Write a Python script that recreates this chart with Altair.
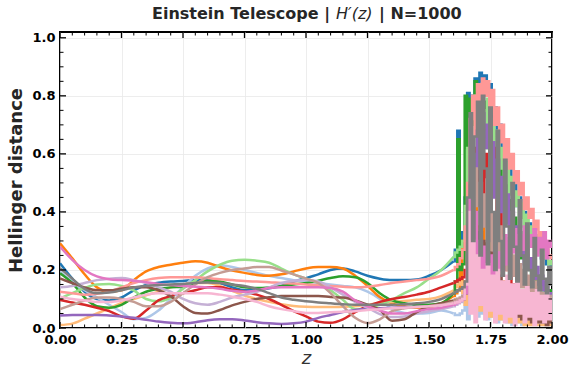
import altair as alt
import pandas as pd

# ---------------- data ----------------
z_smooth = [round(0.05 * i, 2) for i in range(33)]          # 0.00 ... 1.60
z_noisy = [round(1.60 + 0.01 * i, 2) for i in range(41)]    # 1.60 ... 2.00

series_colors = ["#1f77b4", "#aec7e8", "#ff7f0e", "#ffbb78", "#2ca02c",
                 "#98df8a", "#d62728", "#ff9896", "#9467bd", "#c5b0d5",
                 "#8c564b", "#c49c94", "#e377c2", "#f7b6d2", "#7f7f7f"]

blue = [0.223,0.17,0.125,0.10,0.095,0.105,0.13,0.148,0.156,0.16,0.162,0.165,0.165,0.155,0.14,0.13,0.13,0.137,0.145,0.16,0.172,0.185,0.2,0.205,0.195,0.18,0.17,0.165,0.165,0.167,0.18,0.2,0.23]
light_blue = [0.194,0.16,0.13,0.105,0.08,0.055,0.03,0.035,0.06,0.1,0.14,0.18,0.205,0.215,0.21,0.2,0.19,0.18,0.172,0.165,0.16,0.155,0.15,0.145,0.14,0.125,0.1,0.065,0.052,0.05,0.052,0.06,0.05]
orange = [0.292,0.24,0.185,0.14,0.125,0.13,0.165,0.195,0.21,0.218,0.225,0.23,0.225,0.21,0.198,0.19,0.183,0.18,0.185,0.195,0.205,0.21,0.21,0.205,0.18,0.145,0.107,0.085,0.075,0.07,0.072,0.085,0.11]
light_orange = [0.01,0.015,0.032,0.05,0.068,0.086,0.1,0.113,0.125,0.14,0.15,0.155,0.155,0.145,0.128,0.112,0.1,0.09,0.082,0.076,0.073,0.072,0.072,0.073,0.075,0.08,0.086,0.09,0.093,0.097,0.1,0.11,0.13]
green = [0.189,0.155,0.105,0.075,0.07,0.08,0.105,0.125,0.135,0.14,0.142,0.155,0.163,0.16,0.15,0.14,0.138,0.14,0.145,0.15,0.155,0.163,0.172,0.178,0.175,0.155,0.12,0.095,0.085,0.08,0.08,0.085,0.12]
light_green = [0.102,0.12,0.138,0.15,0.152,0.145,0.13,0.1,0.092,0.105,0.135,0.165,0.195,0.218,0.232,0.235,0.232,0.225,0.205,0.185,0.17,0.155,0.13,0.097,0.065,0.068,0.08,0.097,0.12,0.14,0.17,0.2,0.245]
red = [0.097,0.088,0.08,0.07,0.058,0.04,0.032,0.06,0.095,0.11,0.12,0.13,0.14,0.14,0.132,0.125,0.115,0.1,0.08,0.058,0.04,0.022,0.018,0.03,0.055,0.075,0.09,0.1,0.107,0.115,0.125,0.14,0.155]
salmon = [0.125,0.12,0.115,0.118,0.125,0.14,0.155,0.165,0.172,0.175,0.175,0.175,0.172,0.168,0.165,0.162,0.16,0.158,0.155,0.153,0.15,0.148,0.145,0.142,0.14,0.142,0.148,0.155,0.16,0.165,0.17,0.18,0.2]
purple = [0.043,0.045,0.045,0.045,0.043,0.04,0.035,0.028,0.022,0.018,0.016,0.02,0.027,0.03,0.03,0.026,0.02,0.016,0.014,0.016,0.022,0.035,0.045,0.055,0.062,0.066,0.068,0.07,0.072,0.073,0.075,0.08,0.088]
light_purple = [0.14,0.145,0.155,0.165,0.17,0.172,0.165,0.155,0.14,0.125,0.1,0.085,0.08,0.09,0.105,0.115,0.125,0.14,0.155,0.163,0.165,0.16,0.14,0.115,0.09,0.07,0.048,0.038,0.04,0.05,0.058,0.065,0.075]
brown = [0.171,0.155,0.14,0.13,0.13,0.135,0.14,0.14,0.13,0.11,0.075,0.052,0.05,0.062,0.078,0.09,0.1,0.106,0.11,0.11,0.11,0.11,0.107,0.105,0.095,0.08,0.062,0.025,0.03,0.055,0.075,0.085,0.095]
light_brown = [0.065,0.08,0.095,0.105,0.105,0.1,0.09,0.075,0.075,0.09,0.12,0.15,0.175,0.19,0.2,0.205,0.21,0.21,0.198,0.185,0.17,0.155,0.12,0.075,0.035,0.017,0.03,0.058,0.068,0.072,0.075,0.08,0.09]
pink = [0.28,0.235,0.2,0.178,0.168,0.165,0.163,0.158,0.152,0.148,0.145,0.142,0.14,0.135,0.128,0.125,0.13,0.138,0.14,0.14,0.14,0.14,0.138,0.125,0.095,0.075,0.06,0.05,0.05,0.058,0.065,0.07,0.08]
light_pink = [0.108,0.1,0.095,0.09,0.09,0.095,0.105,0.115,0.12,0.12,0.12,0.12,0.12,0.115,0.108,0.1,0.09,0.075,0.065,0.058,0.052,0.052,0.054,0.056,0.058,0.062,0.065,0.068,0.07,0.072,0.075,0.078,0.085]
gray = [0.206,0.17,0.135,0.12,0.122,0.13,0.14,0.145,0.148,0.15,0.152,0.155,0.157,0.155,0.15,0.145,0.135,0.12,0.105,0.097,0.092,0.088,0.085,0.082,0.08,0.08,0.08,0.08,0.082,0.085,0.09,0.1,0.12]

blue_n = [0.23,0.27,0.68,0.3,0.33,0.45,0.81,0.6,0.8,0.86, 0.82,0.88,0.85,0.87,0.8,0.84,0.72,0.76,0.66,0.7, 0.6,0.62,0.53,0.56,0.48,0.5,0.42,0.45,0.38,0.4, 0.34,0.36,0.3,0.32,0.27,0.29,0.24,0.26,0.22,0.23, 0.21]
light_blue_n = [0.05,0.045,0.045,0.05,0.06,0.1,0.03,0.2,0.06,0.15, 0.04,0.12,0.05,0.1,0.03,0.08,0.04,0.07,0.02,0.06, 0.03,0.05,0.02,0.05,0.01,0.04,0.02,0.04,0.01,0.03, 0.02,0.03,0.01,0.03,0.01,0.02,0.01,0.02,0.01,0.02, 0.01]
orange_n = [0.11,0.12,0.13,0.3,0.14,0.16,0.22,0.4,0.3,0.45, 0.35,0.28,0.4,0.22,0.3,0.18,0.25,0.15,0.2,0.12, 0.16,0.1,0.13,0.08,0.1,0.06,0.09,0.05,0.07,0.04, 0.06,0.03,0.05,0.03,0.04,0.02,0.04,0.02,0.03,0.02, 0.02]
light_orange_n = [0.13,0.14,0.15,0.16,0.12,0.08,0.15,0.1,0.2,0.08, 0.15,0.06,0.12,0.05,0.1,0.04,0.08,0.05,0.07,0.03, 0.06,0.03,0.05,0.02,0.05,0.02,0.04,0.02,0.04,0.01, 0.03,0.01,0.03,0.01,0.02,0.01,0.02,0.01,0.02,0.01, 0.02]
green_n = [0.12,0.16,0.65,0.2,0.22,0.8,0.62,0.79,0.7,0.85, 0.76,0.83,0.68,0.78,0.62,0.72,0.55,0.64,0.5,0.58, 0.44,0.5,0.38,0.44,0.33,0.38,0.28,0.33,0.24,0.28, 0.2,0.24,0.17,0.21,0.15,0.18,0.13,0.15,0.11,0.13, 0.1]
light_green_n = [0.245,0.26,0.27,0.28,0.3,0.42,0.62,0.55,0.74,0.8, 0.68,0.82,0.75,0.7,0.79,0.64,0.72,0.6,0.68,0.55, 0.62,0.5,0.57,0.46,0.52,0.42,0.47,0.38,0.43,0.35, 0.39,0.32,0.35,0.29,0.32,0.26,0.29,0.24,0.27,0.22, 0.23]
red_n = [0.155,0.16,0.165,0.17,0.175,0.2,0.3,0.5,0.42,0.62, 0.5,0.72,0.45,0.6,0.52,0.4,0.58,0.62,0.35,0.45, 0.3,0.25,0.2,0.28,0.15,0.12,0.18,0.1,0.08,0.12, 0.09,0.07,0.1,0.06,0.08,0.05,0.07,0.04,0.06,0.05, 0.05]
salmon_n = [0.2,0.21,0.22,0.24,0.27,0.35,0.5,0.72,0.8,0.66, 0.84,0.78,0.86,0.8,0.85,0.74,0.82,0.7,0.76,0.64, 0.7,0.58,0.65,0.55,0.6,0.5,0.54,0.46,0.5,0.41, 0.45,0.38,0.41,0.34,0.37,0.3,0.33,0.28,0.3,0.25, 0.24]
purple_n = [0.088,0.09,0.095,0.1,0.11,0.14,0.25,0.45,0.6,0.52, 0.68,0.55,0.74,0.62,0.7,0.5,0.64,0.45,0.58,0.4, 0.52,0.36,0.46,0.32,0.4,0.28,0.35,0.25,0.31,0.22, 0.27,0.2,0.24,0.17,0.21,0.15,0.18,0.13,0.16,0.12, 0.11]
light_purple_n = [0.075,0.08,0.085,0.09,0.1,0.12,0.2,0.1,0.25,0.14, 0.2,0.1,0.18,0.09,0.16,0.08,0.14,0.07,0.12,0.06, 0.11,0.05,0.1,0.05,0.09,0.04,0.08,0.04,0.07,0.03, 0.06,0.03,0.06,0.03,0.05,0.02,0.05,0.02,0.04,0.02, 0.04]
brown_n = [0.095,0.097,0.1,0.1,0.1,0.12,0.18,0.35,0.22,0.4, 0.28,0.33,0.2,0.3,0.15,0.26,0.12,0.22,0.1,0.18, 0.08,0.15,0.06,0.12,0.05,0.1,0.04,0.08,0.03,0.07, 0.03,0.06,0.02,0.05,0.02,0.05,0.02,0.04,0.01,0.04, 0.02]
light_brown_n = [0.09,0.095,0.1,0.105,0.11,0.14,0.28,0.5,0.38,0.55, 0.42,0.5,0.35,0.46,0.3,0.42,0.27,0.38,0.24,0.35, 0.22,0.31,0.2,0.28,0.18,0.25,0.16,0.22,0.14,0.2, 0.13,0.18,0.11,0.16,0.1,0.14,0.09,0.12,0.08,0.11, 0.08]
pink_n = [0.08,0.085,0.09,0.095,0.1,0.12,0.3,0.45,0.18,0.4, 0.15,0.3,0.12,0.28,0.15,0.25,0.12,0.28,0.18,0.26, 0.2,0.32,0.22,0.3,0.26,0.34,0.24,0.32,0.27,0.35, 0.26,0.32,0.28,0.34,0.25,0.31,0.27,0.33,0.24,0.3, 0.28]
light_pink_n = [0.085,0.088,0.09,0.095,0.1,0.15,0.4,0.05,0.3,0.02, 0.25,0.08,0.2,0.03,0.22,0.06,0.18,0.02,0.2,0.05, 0.16,0.02,0.18,0.04,0.15,0.01,0.16,0.05,0.13,0.02, 0.14,0.04,0.12,0.01,0.13,0.03,0.11,0.02,0.12,0.03, 0.1]
gray_n = [0.12,0.125,0.13,0.135,0.14,0.16,0.45,0.74,0.3,0.66, 0.78,0.25,0.8,0.55,0.22,0.76,0.4,0.2,0.68,0.3, 0.18,0.58,0.35,0.17,0.5,0.28,0.16,0.44,0.25,0.15, 0.36,0.2,0.14,0.31,0.18,0.13,0.27,0.17,0.12,0.21, 0.15]

smooth_values = [blue, light_blue, orange, light_orange, green, light_green, red,
                 salmon, purple, light_purple, brown, light_brown, pink, light_pink, gray]
noisy_values = [blue_n, light_blue_n, orange_n, light_orange_n, green_n, light_green_n,
                red_n, salmon_n, purple_n, light_purple_n, brown_n, light_brown_n,
                pink_n, light_pink_n, gray_n]

x_major = [0.0, 0.25, 0.5, 0.75, 1.0, 1.25, 1.5, 1.75, 2.0]
x_minor = [0.05, 0.1, 0.15, 0.2, 0.3, 0.35, 0.4, 0.45, 0.55, 0.6, 0.65, 0.7,
           0.8, 0.85, 0.9, 0.95, 1.05, 1.1, 1.15, 1.2, 1.3, 1.35, 1.4, 1.45,
           1.55, 1.6, 1.65, 1.7, 1.8, 1.85, 1.9, 1.95]
y_major = [0.0, 0.2, 0.4, 0.6, 0.8, 1.0]
y_minor = [0.05, 0.1, 0.15, 0.25, 0.3, 0.35, 0.45, 0.5, 0.55, 0.65, 0.7, 0.75,
           0.85, 0.9, 0.95]

title_left = "Einstein Telescope |"
title_mid = "H\u2032(z)"
title_right = "| N=1000"

# ---------------- layout / style ----------------
W, H = 492, 296
FONT = "DejaVu Sans"

xscale = alt.Scale(domain=[0, 2], nice=False, zero=False)
yscale = alt.Scale(domain=[0, 1.02], nice=False, zero=False)

xaxis = alt.Axis(values=x_major, format=".2f", tickSize=0, domain=False,
                 grid=True, gridColor="#e9e9e9", gridWidth=0.8,
                 labelFont=FONT, labelFontSize=13, labelFontWeight="bold",
                 labelColor="black", labelPadding=5, labelOverlap=False,
                 labelFlush=False,
                 title="z", titleFont=FONT, titleFontSize=18,
                 titleFontStyle="italic", titleFontWeight="normal",
                 titleColor="#333333", titlePadding=3)
yaxis = alt.Axis(values=y_major, format=".1f", tickSize=0, domain=False,
                 grid=True, gridColor="#e9e9e9", gridWidth=0.8,
                 labelFont=FONT, labelFontSize=13, labelFontWeight="bold",
                 labelColor="black", labelPadding=5, labelOverlap=False,
                 title="Hellinger distance", titleFont=FONT, titleFontSize=18,
                 titleFontWeight="bold", titleColor="#262626", titlePadding=6)

X = alt.X("z:Q", scale=xscale, axis=xaxis)
Y = alt.Y("h:Q", scale=yscale, axis=yaxis)

layers = []
for color, sv, nv in zip(series_colors, smooth_values, noisy_values):
    df_s = pd.DataFrame({"z": z_smooth, "h": sv})
    df_n = pd.DataFrame({"z": z_noisy, "h": nv})
    layers.append(alt.Chart(df_s).mark_line(interpolate="monotone", color=color,
                                            strokeWidth=2.5, clip=True).encode(x=X, y=Y))
    layers.append(alt.Chart(df_n).mark_line(interpolate="step", color=color,
                                            strokeWidth=2.5, clip=True).encode(x=X, y=Y))

# inward ticks on all four sides
def xticks(vals, length, sw):
    d = pd.DataFrame({"z": vals})
    bot = alt.Chart(d).mark_rule(color="black", strokeWidth=sw).encode(
        x=X, y=alt.value(H), y2=alt.value(H - length))
    top = alt.Chart(d).mark_rule(color="black", strokeWidth=sw).encode(
        x=X, y=alt.value(0), y2=alt.value(length))
    return [bot, top]

def yticks(vals, length, sw):
    d = pd.DataFrame({"h": vals})
    left = alt.Chart(d).mark_rule(color="black", strokeWidth=sw).encode(
        y=Y, x=alt.value(0), x2=alt.value(length))
    right = alt.Chart(d).mark_rule(color="black", strokeWidth=sw).encode(
        y=Y, x=alt.value(W), x2=alt.value(W - length))
    return [left, right]

layers += xticks(x_major, 6, 1.3) + xticks(x_minor, 3.5, 1)
layers += yticks(y_major, 6, 1.3) + yticks(y_minor, 3.5, 1)

# title made of three text pieces (bold / italic / bold)
def title_piece(txt, xpos, align, weight, style):
    return alt.Chart(pd.DataFrame({"t": [txt]})).mark_text(
        align=align, baseline="alphabetic", font=FONT, fontSize=16,
        fontWeight=weight, fontStyle=style, color="#262626").encode(
        text="t:N", x=alt.value(xpos), y=alt.value(-13))

layers.append(title_piece(title_left, 270, "right", "bold", "normal"))
layers.append(title_piece(title_mid, 276, "left", "normal", "italic"))
layers.append(title_piece(title_right, 319, "left", "bold", "normal"))

chart = alt.layer(*layers).properties(
    width=W, height=H,
    autosize=alt.AutoSizeParams(type="none"),
    padding={"left": 60, "top": 32, "right": 18, "bottom": 46},
    background="white",
).configure_view(stroke="black", strokeWidth=2)

chart.save("out.html", embed_options={"renderer": "svg", "actions": False})
